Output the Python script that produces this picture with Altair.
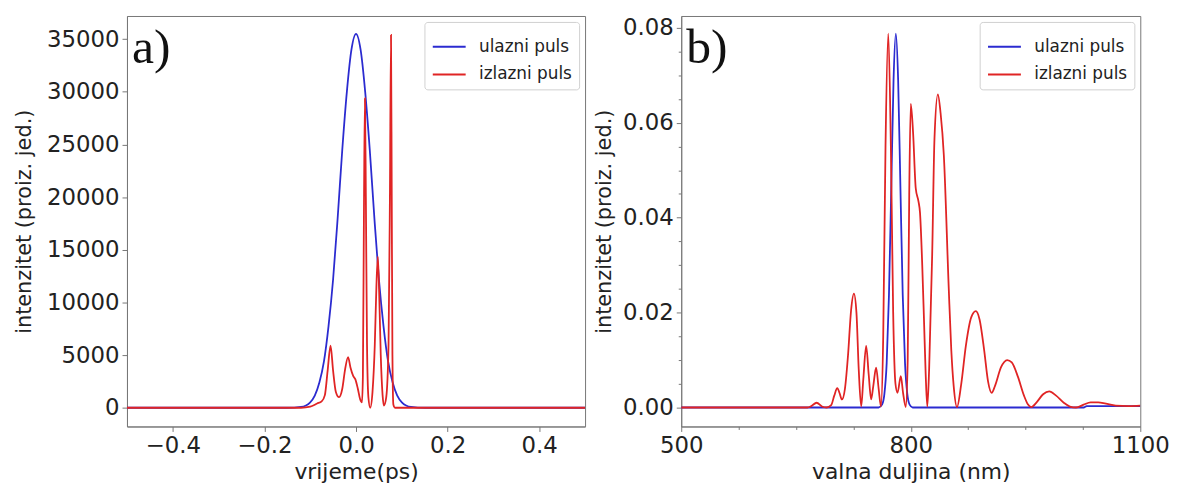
import altair as alt
import pandas as pd

# ---- panel a) : time domain ----
t_in = [-0.5, -0.15, -0.12, -0.10, -0.09, -0.08, -0.07, -0.06, -0.05, -0.04, -0.03, -0.02, -0.01, 0.0,
        0.01, 0.02, 0.03, 0.04, 0.05, 0.06, 0.07, 0.08, 0.09, 0.10, 0.12, 0.15, 0.5]
i_in = [0, 0, 80, 520, 1150, 2390, 4400, 7750, 12200, 18060, 24500, 30000, 34000, 35500,
        34000, 30000, 24500, 18060, 12200, 7750, 4400, 2390, 1150, 520, 80, 0, 0]

t_out = [-0.5, -0.12, -0.10, -0.085, -0.075, -0.068, -0.062, -0.0556, -0.05, -0.044, -0.037,
         -0.03, -0.024, -0.0173, -0.012, -0.006, -0.0014, 0.004, 0.009, 0.013,
         0.015, 0.0175, 0.0195, 0.0215, 0.024, 0.027, 0.031,
         0.036, 0.041, 0.0445, 0.0476, 0.0505, 0.054, 0.058, 0.061,
         0.066, 0.071, 0.074, 0.0764, 0.078, 0.0795, 0.0815, 0.085, 0.5]
i_out = [0, 0, 100, 400, 600, 1200, 3500, 5900, 3500, 1500, 1000,
         1800, 3600, 4800, 3800, 3000, 2700, 1800, 800, 500,
         3000, 20000, 29400, 20000, 6000, 1000, 0,
         1500, 6000, 11500, 14350, 11000, 5000, 1200, 200,
         1000, 6000, 20000, 35400, 20000, 5000, 300, 0, 0]

# ---- panel b) : spectral domain ----
lam_in = [500, 740, 758, 762.5, 765.5, 768.5, 771.5, 774.5, 777.5, 780.5, 783.5, 786.5, 789.5,
          792.5, 795.5, 798.5, 802.5, 1026, 1030, 1100]
s_in = [0, 0, 0, 0.0006, 0.0028, 0.0093, 0.0237, 0.0462, 0.069, 0.0788, 0.069, 0.0462, 0.0237,
        0.0093, 0.0028, 0.0006, 0, 0, 0.0003, 0.0003]

lam_out = [500, 640, 665, 670, 677, 684, 690, 696, 700, 704, 707, 710, 714, 718, 722, 725.7,
           729, 732, 735.2, 738, 741.7, 745, 748.2, 751, 754.7, 758, 761.1, 764, 767, 770.6,
           774, 777, 780, 782.7, 787, 790, 793.5, 796, 798, 800, 803, 806.5, 810, 812.1, 815,
           817.3, 819.5, 821.6, 824, 828, 831, 835.4, 839, 843.2, 849.6, 853, 856.1, 860.4,
           866, 872, 879, 885, 890, 896, 901, 905.7, 910, 918, 926, 932, 940, 948, 953, 957.5,
           965, 973, 981, 990, 1000, 1008, 1016, 1026, 1035, 1045, 1055, 1068, 1085, 1100]
s_out = [0, 0, 0, 0.0003, 0.0010, 0.0002, 0, 0.0005, 0.0025, 0.0041, 0.0030, 0.0017, 0.0040,
         0.0110, 0.0205, 0.0240,
         0.0200, 0.0080, 0.0002, 0.0060, 0.0130, 0.0070, 0.0017, 0.0045, 0.0084, 0.0040, 0.0002,
         0.0150, 0.0550, 0.0788,
         0.0550, 0.0200, 0.0050, 0.0031, 0.0066, 0.0030, 0.0001, 0.0100, 0.0450, 0.0640, 0.0580,
         0.0462, 0.0435, 0.0410, 0.0300,
         0.0184, 0.0070, 0.0002, 0.0080, 0.0323, 0.0567, 0.0660, 0.0620, 0.0532, 0.0253, 0.0120,
         0.0045, 0.0001,
         0.0050, 0.0130, 0.0190, 0.0203, 0.0185, 0.0120, 0.0055, 0.0031, 0.0045, 0.0085, 0.0100,
         0.0095, 0.0065, 0.0025, 0.0007, 0.0001,
         0.0012, 0.0028, 0.0034, 0.0025, 0.0010, 0.0002, 0.0, 0.0006, 0.0011, 0.0011, 0.0008,
         0.0004, 0.0003, 0.0004]

series_names = ["ulazni puls", "izlazni puls"]
series_colors = ["#2b2bd0", "#e02424"]
panel_labels = ["a)", "b)"]

x_ticks_a = [-0.4, -0.2, 0.0, 0.2, 0.4]
y_ticks_a = [0, 5000, 10000, 15000, 20000, 25000, 30000, 35000]
x_ticks_b = [500, 575, 650, 725, 800, 875, 950, 1025, 1100]
y_ticks_b = [round(0.005 * k, 3) for k in range(17)]

FONT = "DejaVu Sans"

df_a_in = pd.DataFrame({"x": t_in, "y": i_in, "s": series_names[0]})
df_a_out = pd.DataFrame({"x": t_out, "y": i_out, "s": series_names[1]})
df_b_in = pd.DataFrame({"x": lam_in, "y": s_in, "s": series_names[0]})
df_b_out = pd.DataFrame({"x": lam_out, "y": s_out, "s": series_names[1]})

color_enc = alt.Color(
    "s:N",
    scale=alt.Scale(domain=series_names, range=series_colors),
    legend=alt.Legend(
        title=None, orient="top-right", offset=6,
        fillColor="white", strokeColor="#d0d0d0", cornerRadius=3,
        padding=7, rowPadding=2,
        labelFont=FONT, labelFontSize=17, labelColor="#222",
        symbolType="stroke", symbolSize=1100, symbolStrokeWidth=2, symbolOffset=0,
        labelOffset=12,
    ),
)


def panel(df_in, df_out, xdom, ydom, xaxis, yaxis, label, w, h):
    xenc = alt.X("x:Q", scale=alt.Scale(domain=xdom, nice=False, zero=False), axis=xaxis)
    yenc = alt.Y("y:Q", scale=alt.Scale(domain=ydom, nice=False, zero=False), axis=yaxis)
    l1 = alt.Chart(df_in).mark_line(strokeWidth=1.8, interpolate="monotone", clip=True).encode(
        x=xenc, y=yenc, color=color_enc)
    l2 = alt.Chart(df_out).mark_line(strokeWidth=1.8, interpolate="monotone", clip=True).encode(
        x=xenc, y=yenc, color=color_enc)
    txt = alt.Chart(pd.DataFrame({"lab": [label]})).mark_text(
        font="Liberation Serif", fontSize=50, align="left", baseline="alphabetic", color="#111"
    ).encode(text="lab:N", x=alt.value(5), y=alt.value(47))
    return alt.layer(l1, l2, txt).properties(width=w, height=h)


ax_a_x = alt.Axis(values=x_ticks_a, format=".1f", title="vrijeme(ps)", tickSize=5, labelPadding=3,
                  titlePadding=4, labelFlush=False)
ax_a_y = alt.Axis(values=y_ticks_a, format="d", title="intenzitet (proiz. jed.)", tickSize=5,
                  labelPadding=3, titlePadding=12, titleFontSize=21, labelFlush=False)
ax_b_x = alt.Axis(values=x_ticks_b, format="d", title="valna duljina (nm)",
                  labelExpr="datum.value % 300 == 200 ? datum.label : ''",
                  tickSize=alt.condition("datum.value % 300 == 200", alt.value(5), alt.value(3)),
                  labelPadding=3, titlePadding=4, labelFlush=False)
ax_b_y = alt.Axis(values=y_ticks_b, format=".2f", title="intenzitet (proiz. jed.)",
                  labelExpr="round(datum.value * 1000) % 20 == 0 ? datum.label : ''",
                  tickSize=alt.condition("round(datum.value * 1000) % 20 == 0", alt.value(5), alt.value(3)),
                  labelPadding=3, titlePadding=8, titleFontSize=21, labelFlush=False)

pa = panel(df_a_in, df_a_out, [-0.5, 0.5], [-1780, 37200], ax_a_x, ax_a_y, panel_labels[0], 462, 414)
pb = panel(df_b_in, df_b_out, [500, 1100], [-0.004, 0.0825], ax_b_x, ax_b_y, panel_labels[1], 463, 414)

chart = alt.hconcat(pa, pb, spacing=7).resolve_scale(color="independent").resolve_legend(
    color="independent"
).configure_view(stroke="#777", strokeWidth=1).configure_axis(
    labelFont=FONT, labelFontSize=23, labelColor="#222",
    titleFont=FONT, titleFontSize=22, titleFontWeight="normal", titleColor="#222",
    domainColor="#777", tickColor="#777", grid=False, labelOverlap=False,
).properties(background="white", padding=5)

chart.save("out.html", embed_options={"renderer": "svg", "actions": False})
